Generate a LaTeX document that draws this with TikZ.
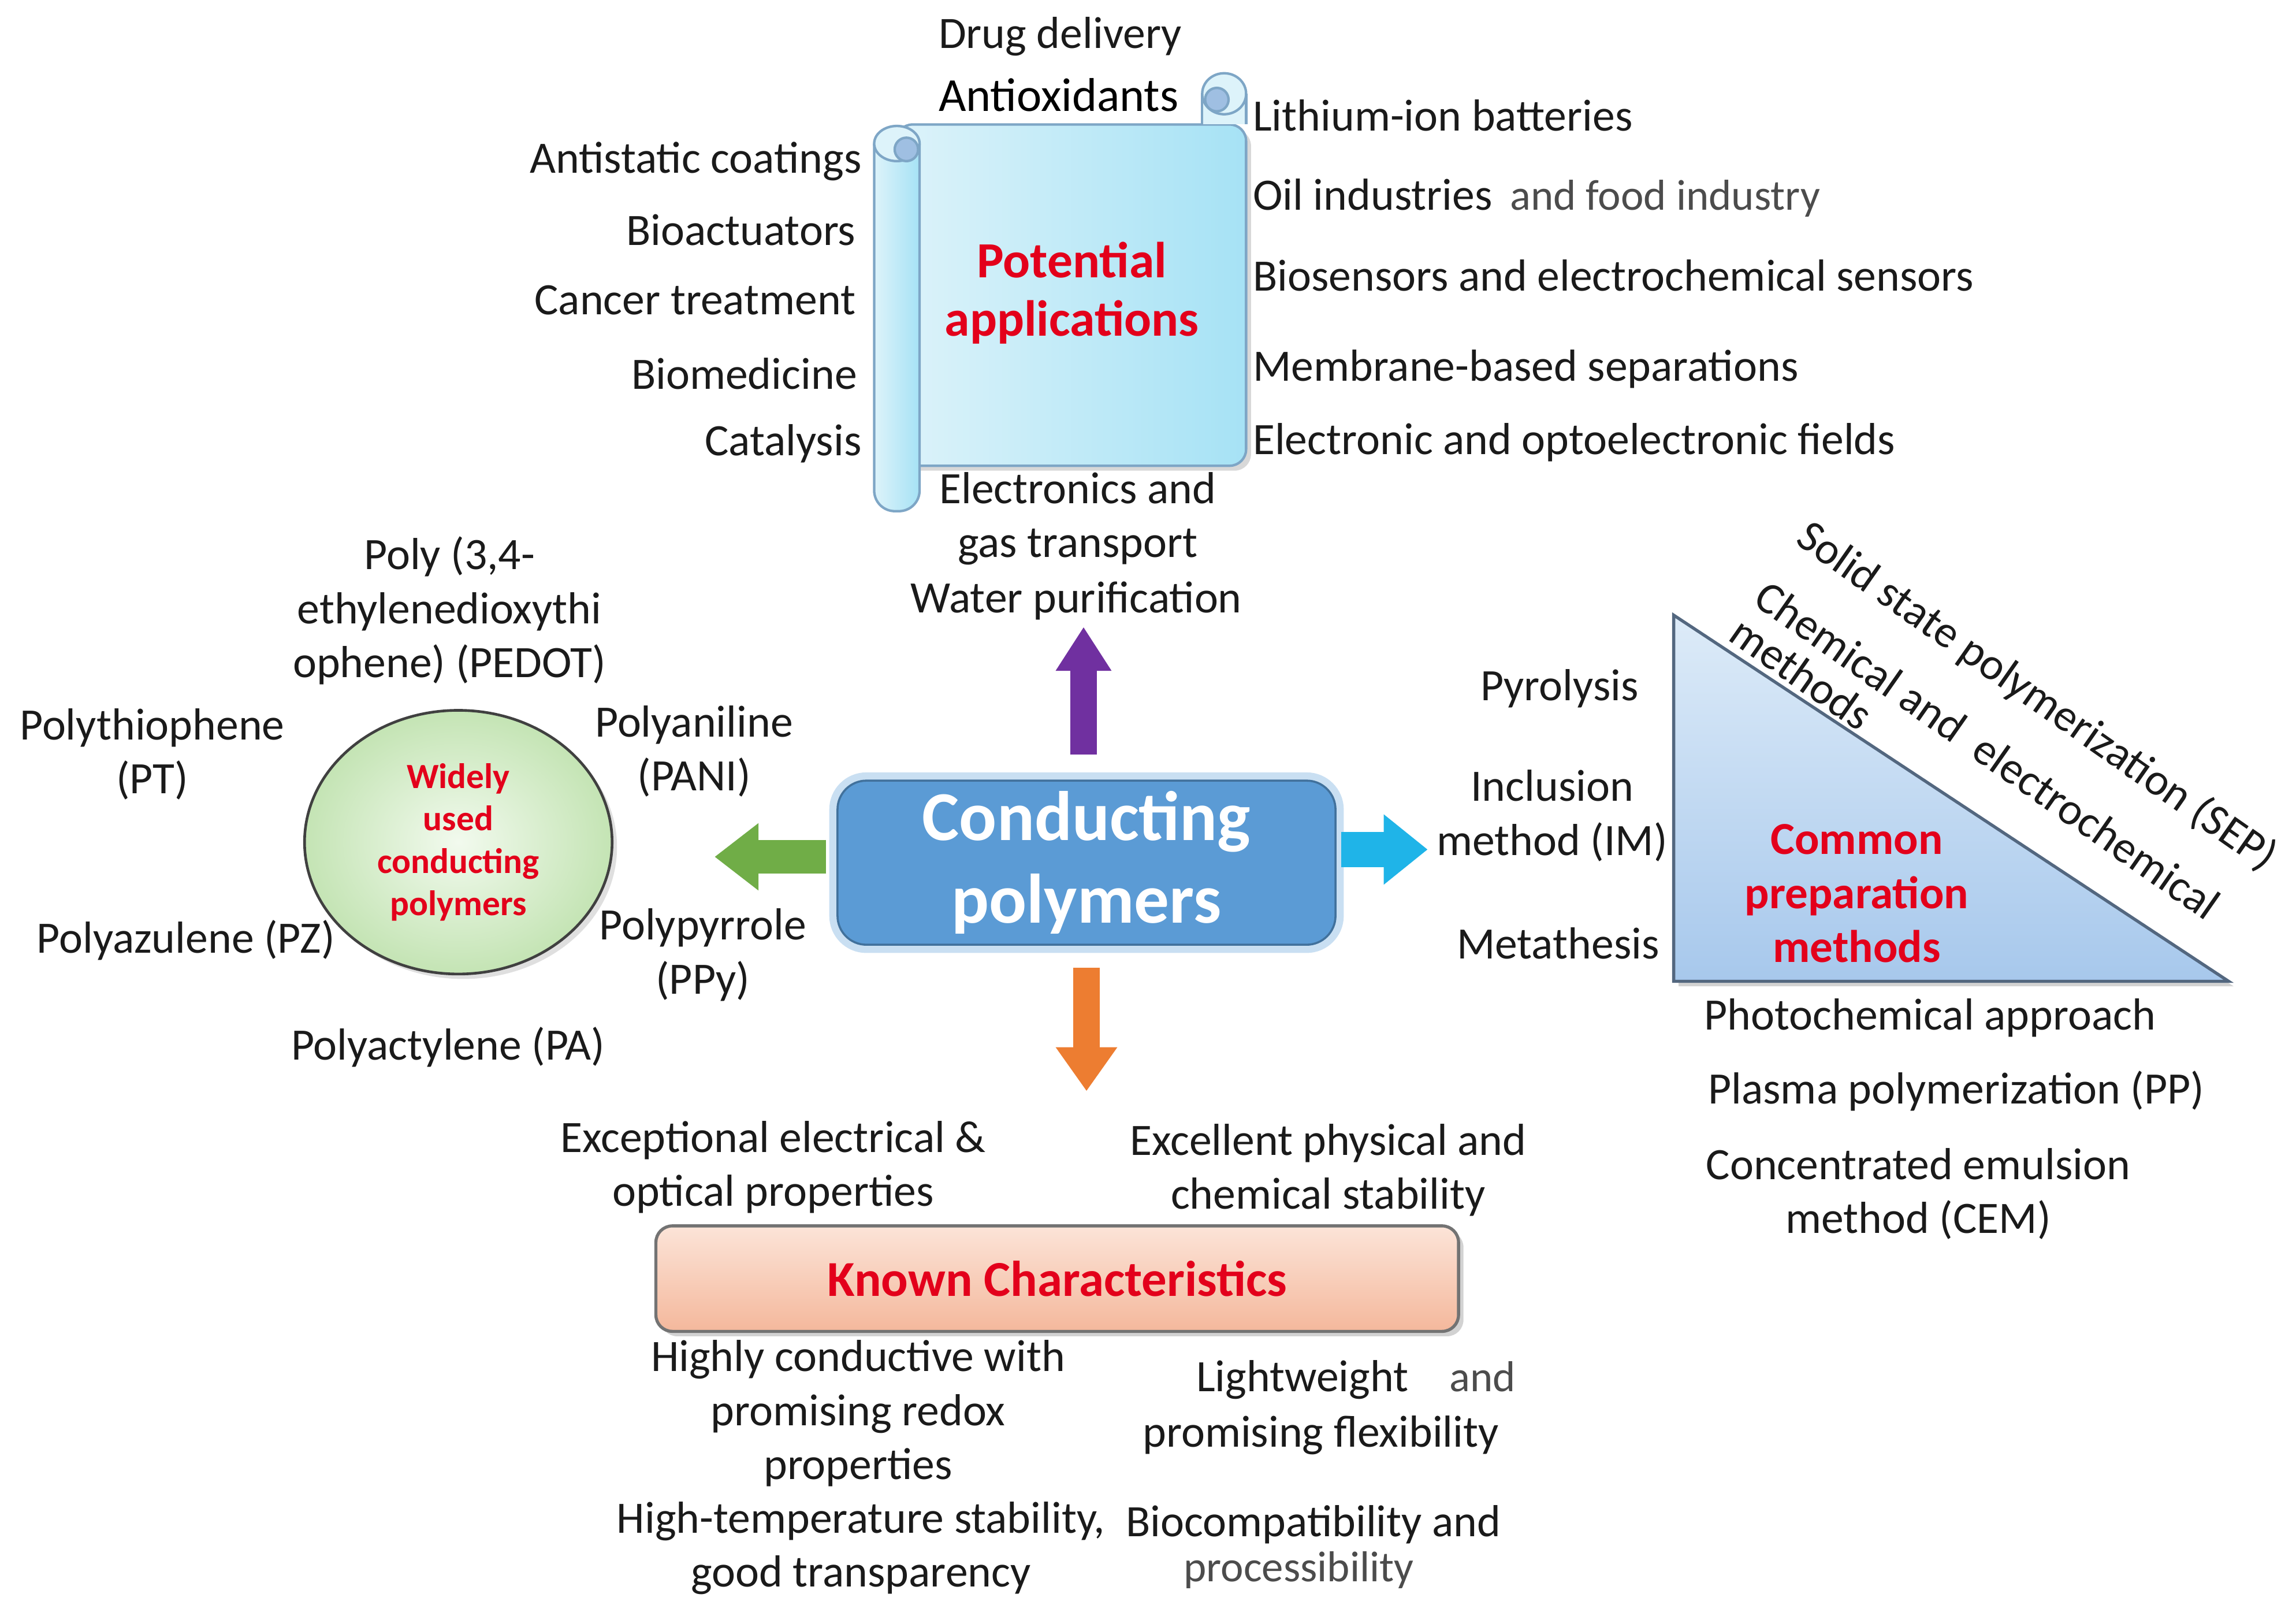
\documentclass[tikz,border=0pt]{standalone}
\usepackage{fontspec}
\setmainfont{Carlito}
\usetikzlibrary{arrows.meta,shapes.geometric,shadows}

\definecolor{txt}{HTML}{1A1A1A}
\definecolor{hdred}{HTML}{E3001B}
\definecolor{cpblue}{HTML}{5B9BD5}
\definecolor{cpedge}{HTML}{41719C}
\definecolor{cpglow}{HTML}{C9DFF2}
\definecolor{scrolla}{HTML}{DDF3FA}
\definecolor{scrollb}{HTML}{A6E2F5}
\definecolor{scrolledge}{HTML}{7EA6C6}
\definecolor{curl}{HTML}{9FBFE2}
\definecolor{arrpurple}{HTML}{7030A0}
\definecolor{arrgreen}{HTML}{70AD47}
\definecolor{arrcyan}{HTML}{1FB4E8}
\definecolor{arrorange}{HTML}{ED7D31}
\definecolor{trifa}{HTML}{DDEBF8}
\definecolor{trifb}{HTML}{A7C8EC}
\definecolor{triedge}{HTML}{53677F}
\definecolor{kca}{HTML}{FCE4D8}
\definecolor{kcb}{HTML}{F4B89C}
\definecolor{elin}{HTML}{F2FAEE}
\definecolor{elout}{HTML}{C4E4B4}

\tikzset{
  lbl/.style={font=\fontsize{21.8}{26.2}\selectfont,text=txt,align=center,inner sep=1pt},
  lblgrey/.style={lbl,font=\fontsize{21}{24}\selectfont,text=black!70},
  redhead/.style={font=\fontsize{24.6}{28.5}\selectfont\bfseries,text=hdred,align=center},
  scrollpart/.style={draw=scrolledge,line width=1.2pt},
  cpbox/.style={draw=cpedge,line width=1pt,fill=cpblue,rounded corners=14pt,
    minimum width=8.5cm,minimum height=2.8cm,text=white,align=center,
    font=\fontsize{34}{40}\selectfont\bfseries,preaction={draw=cpglow,line width=8pt}},
  kcbox/.style={draw=black!55,line width=1.5pt,rounded corners=8pt,top color=kca,bottom color=kcb,
    minimum width=13.7cm,minimum height=1.8cm,drop shadow={opacity=.35},
    font=\fontsize{24.4}{28}\selectfont\bfseries,text=hdred},
  fatarrow/.style n args={4}{line width=#1,#2,shorten <=#3,-{Triangle[width=#4,length=0.75cm]}}
}

\begin{document}
\begin{tikzpicture}[x=0.025cm,y=-0.025cm]
\fill[white] (0,0) rectangle (1568,1106);
\useasboundingbox (0,0) rectangle (1568,1106);

% scroll
\draw[scrollpart,left color=scrolla,right color=scrollb,rounded corners=8pt,drop shadow={opacity=.3}] (612,85) rectangle (851,318);
\fill[scrolla] (821,64) rectangle (851,85);
\draw[scrollpart] (821,64) -- (821,85) (851,64) -- (851,85);
\filldraw[scrollpart,fill=scrolla] (836,64) ellipse[x radius=15,y radius=14];
\filldraw[scrollpart,fill=curl] (831,68) ellipse[x radius=8,y radius=8];
\draw[scrollpart,left color=scrolla,right color=scrollb,rounded corners=10pt] (597,98) -- (597,349) -- (628,349) -- (628,98);
\filldraw[scrollpart,fill=scrolla] (612.5,98) ellipse[x radius=15.5,y radius=12];
\filldraw[scrollpart,fill=curl] (619,102) ellipse[x radius=8,y radius=8];
\node[redhead] (potapp) at (732,200) {Potential\\applications};

\node[lbl] (drug) at (724,25) {Drug delivery};
\node[lbl,font=\fontsize{23}{26}\selectfont,text=black] (antiox) at (723,65) {Antioxidants};
\node[lbl,anchor=east] (antistatic) at (590,110) {Antistatic coatings};
\node[lbl,anchor=east] (bioact) at (586,157) {Bioactuators};
\node[lbl,anchor=east] (cancer) at (586,205) {Cancer treatment};
\node[lbl,anchor=east] (biomed) at (587,255) {Biomedicine};
\node[lbl,anchor=east] (catal) at (590,303) {Catalysis};
\node[lbl,anchor=west] (lithium) at (854,79) {Lithium-ion batteries};
\node[lbl,anchor=west] (oil) at (854,135) {Oil industries\hspace{0.3cm}{\color{black!70}\fontsize{21}{24}\selectfont and food industry}};
\node[lbl,anchor=west] (biosens) at (854,188) {Biosensors and electrochemical sensors};
\node[lbl,anchor=west] (membr) at (854,252) {Membrane-based separations};
\node[lbl,anchor=west] (electro) at (854,302) {Electronic and optoelectronic fields};
\node[lbl] (elecgas) at (736,354) {Electronics and\\gas transport};
\node[lbl] (water) at (735,410) {Water purification};

% centre
\node[cpbox] (cp) at (742,589) {Conducting\\polymers};
\coordinate (uptip) at (740,428);
\coordinate (lefttip) at (488,585);
\coordinate (righttip) at (975,580);
\coordinate (downtip) at (742,745);
\draw[fatarrow={0.45cm}{arrpurple}{0.425cm}{0.9cm}] (cp.north -| uptip) -- (uptip);
\draw[fatarrow={0.58cm}{arrgreen}{0.175cm}{1.1cm}] (cp.west |- lefttip) -- (lefttip);
\draw[fatarrow={0.6cm}{arrcyan}{0.075cm}{1.15cm}] (cp.east |- righttip) -- (righttip);
\draw[fatarrow={0.45cm}{arrorange}{0.375cm}{1cm}] (cp.south) -- (downtip);

% polymers
\node[ellipse,draw=black!75,line width=1.3pt,inner color=elin,outer color=elout,
  minimum width=5.25cm,minimum height=4.5cm,drop shadow={opacity=.25},
  font=\fontsize{17.2}{20.6}\selectfont\bfseries,text=hdred,align=center] (wide) at (313,575) {Widely\\used\\conducting\\polymers};
\node[lbl] (pedot) at (307,417) {Poly (3,4-\\ethylenedioxythi\\ophene) (PEDOT)};
\node[lbl] (pt) at (104,515) {Polythiophene\\(PT)};
\node[lbl] (pani) at (474,513) {Polyaniline\\(PANI)};
\node[lbl] (pz) at (127,642) {Polyazulene (PZ)};
\node[lbl] (ppy) at (480,652) {Polypyrrole\\(PPy)};
\node[lbl] (pa) at (306,715) {Polyactylene (PA)};

% preparation
\coordinate (ttop) at (1143,420);
\coordinate (tbl) at (1143,670);
\coordinate (tbr) at (1522,670);
\draw[top color=trifa,bottom color=trifb,draw=triedge,line width=1.5pt,drop shadow={opacity=.35}] (ttop) -- (tbr) -- (tbl) -- cycle;
\node[redhead,font=\fontsize{22.2}{26.2}\selectfont\bfseries] (common) at (1268,610) {Common\\preparation\\methods};
\node[lbl,font=\fontsize{21.8}{21.3}\selectfont,align=left,inner sep=0pt,anchor=north west,rotate=-35] (sep) at (1238,352)
  {Solid state polymerization (SEP)\\[14.5pt]Chemical and\ \ electrochemical\\methods};
\node[lbl] (pyro) at (1065,470) {Pyrolysis};
\node[lbl] (incl) at (1060,557) {Inclusion\\method (IM)};
\node[lbl] (meta) at (1064,644) {Metathesis};
\node[lbl] (photo) at (1318,695) {Photochemical approach};
\node[lbl] (plasma) at (1336,745) {Plasma polymerization (PP)};
\node[lbl] (cem) at (1310,815) {Concentrated emulsion\\method (CEM)};

% characteristics
\node[kcbox] (kc) at (722,873) {Known Characteristics};
\node[lbl] (excep) at (528,797) {Exceptional electrical \&\\optical properties};
\node[lbl] (excel) at (907,799) {Excellent physical and\\chemical stability};
\node[lbl] (highly) at (586,965) {Highly conductive with\\promising redox\\properties};
\node[lbl] (light) at (926,942) {Lightweight\hspace{0.7cm}{\color{black!70}\fontsize{21}{24}\selectfont and}};
\node[lbl] (flex) at (902,980) {promising flexibility};
\node[lbl] (hightemp) at (588,1057) {High-temperature stability,\\good transparency};
\node[lbl] (biocomp) at (897,1041) {Biocompatibility and};
\node[lblgrey] (process) at (887,1072) {processibility};
\end{tikzpicture}
\end{document}
